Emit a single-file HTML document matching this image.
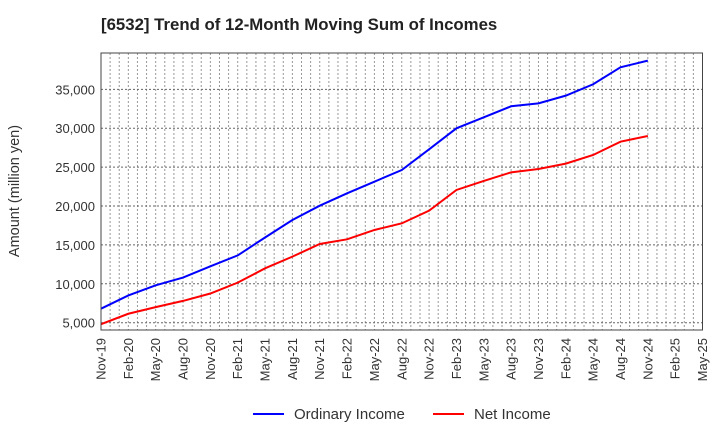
<!DOCTYPE html>
<html><head><meta charset="utf-8"><style>
body{margin:0;background:#fff;}
svg text{font-family:"Liberation Sans",Arial,sans-serif;fill:#333;}
</style></head><body>
<svg width="720" height="440" xmlns="http://www.w3.org/2000/svg" id="chart">
<text x="101" y="30" font-size="16.8" font-weight="bold" style="fill:#222">[6532]  Trend of 12-Month Moving Sum of Incomes</text>
<text transform="translate(19,191) rotate(-90)" text-anchor="middle" font-size="14.5">Amount (million yen)</text>
<g id="grid"></g>
<g id="series"></g>
<rect x="101" y="53" width="601.5" height="277" fill="none" stroke="#444" stroke-width="1"/>
<g id="axes"></g>
<g>
<g>
<line x1="253" y1="414" x2="284" y2="414" stroke="#0000ff" stroke-width="2"/>
<text x="294" y="419" font-size="15">Ordinary Income</text></g>
<g>
<line x1="433" y1="414" x2="464" y2="414" stroke="#ff0000" stroke-width="2"/>
<text x="474" y="419" font-size="15">Net Income</text></g>
</g>
</svg>
<script>
const xLabels=["Nov-19","Feb-20","May-20","Aug-20","Nov-20","Feb-21","May-21","Aug-21","Nov-21","Feb-22","May-22","Aug-22","Nov-22","Feb-23","May-23","Aug-23","Nov-23","Feb-24","May-24","Aug-24","Nov-24","Feb-25","May-25"];
const yTicks=[5000,10000,15000,20000,25000,30000,35000];
const ordinaryIncome=[6800,8500,9800,10800,12250,13650,15950,18200,20040,21630,23130,24630,27290,29990,31400,32820,33200,34190,35650,37830,38690];
const netIncome=[4800,6150,7000,7800,8750,10150,11990,13490,15120,15720,16920,17770,19400,22060,23220,24330,24760,25450,26560,28270,29000];
const L=101,R=702.5,T=53,B=330,yMin=4060,yMax=39670,months=66;
const xq=i=>L+(R-L)*(i*3)/months;
const xm=m=>L+(R-L)*m/months;
const y=v=>B-(v-yMin)/(yMax-yMin)*(B-T);
const NS="http://www.w3.org/2000/svg";
function mk(t,a,p){const e=document.createElementNS(NS,t);for(const k in a)e.setAttribute(k,a[k]);p.appendChild(e);return e;}
const grid=document.getElementById('grid'),axes=document.getElementById('axes'),ser=document.getElementById('series');
for(let m=1;m<months;m++){
 const l=mk('line',{x1:xm(m),x2:xm(m),y1:T,y2:B,stroke:'#999','stroke-width':1,'stroke-dasharray':'2,2'},grid);
 
 
}
yTicks.forEach(v=>{
 const l=mk('line',{x1:L,x2:R,y1:y(v),y2:y(v),stroke:'#666','stroke-width':1,'stroke-dasharray':'2,2'},grid);
 
 
 const t=mk('text',{x:L-6,y:y(v)+5,'text-anchor':'end','font-size':13},axes);
 t.textContent=v.toLocaleString('en-US');
 
 
});
xLabels.forEach((s,i)=>{
 const t=mk('text',{transform:`translate(${xq(i)+4.5},${B+8}) rotate(-90)`,'text-anchor':'end','font-size':13},axes);
 t.textContent=s;
 
 
});
function line(d,c,n){
 const p=mk('polyline',{points:d.map((v,i)=>xq(i)+','+y(v)).join(' '),fill:'none',stroke:c,'stroke-width':2},ser);
 
 
}
line(ordinaryIncome,'#0000ff','ordinary-income-line');
line(netIncome,'#ff0000','net-income-line');
</script>
</body></html>
